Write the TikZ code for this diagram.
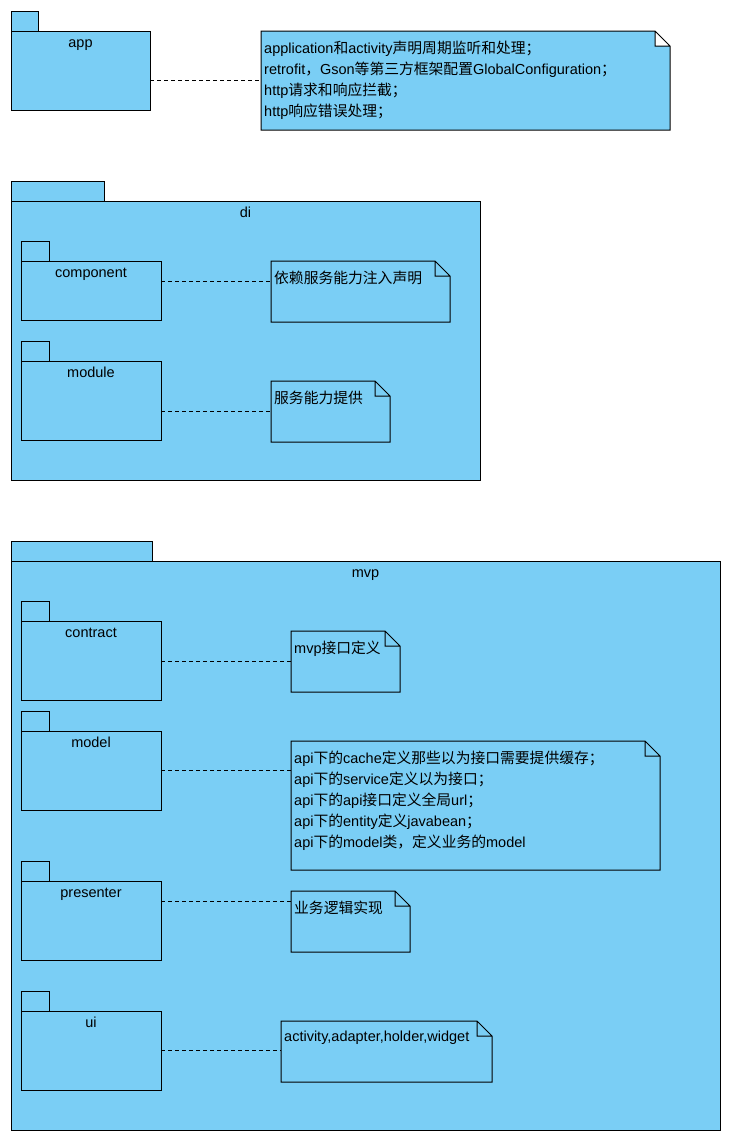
\documentclass[tikz,border=0pt]{standalone}
\usepackage{fontspec}
\setmainfont{Liberation Sans}
\newfontfamily\cjk[Scale=1.02]{Noto Sans CJK SC}
\newcommand{\zh}[1]{{\cjk #1}}
\usetikzlibrary{positioning}
\definecolor{pkgblue}{RGB}{122,206,245}

% outline of a note with a folded corner
\newcommand{\notefold}[2][pkgblue]{%
  \fill[#1] ([xshift=-15pt]#2.north east) rectangle ([yshift=-15pt]#2.north east);
  \draw[line width=1pt] (#2.north west) -- ([xshift=-15pt]#2.north east)
    -- ([yshift=-15pt]#2.north east) -- (#2.south east) -- (#2.south west) -- cycle
    ([xshift=-15pt]#2.north east) |- ([yshift=-15pt]#2.north east);}

\begin{document}
\begin{tikzpicture}[x=1pt, y=-1pt,
  font=\fontsize{14.5pt}{21pt}\selectfont,
  pkg/.style={draw, fill=pkgblue, line width=1pt, anchor=north west,
              inner sep=0pt, outer sep=0pt},
  pkgtab/.style={pkg, anchor=south west, minimum height=20pt},
  pkglbl/.style={anchor=base, inner sep=0pt},
  notebox/.style={fill=pkgblue, anchor=north west, inner sep=0pt, outer sep=0pt},
  notetext/.style={inner sep=0pt, align=left},
  dep/.style={line width=1pt, dash pattern=on 4pt off 3pt}
]
  \useasboundingbox (0,0) rectangle (734,1144);

  % app
  \node[pkg, minimum width=139pt, minimum height=79pt] (app) at (11,31) {};
  \node[pkgtab, minimum width=27pt] (apptab) at (app.north west) {};
  \node[pkglbl] (applbl) at ([yshift=-16pt]app.north) {app};

  \node[notebox, minimum width=409pt, minimum height=99pt] (appnote) at (261,31) {};
  \notefold[white]{appnote}
  \node[notetext, below right=10pt and 3pt of appnote.north west] (apptext)
    {application\zh{和}activity\zh{声明周期监听和处理；}\\
     retrofit\zh{，}Gson\zh{等第三方框架配置}GlobalConfiguration\zh{；}\\
     http\zh{请求和响应拦截；}\\
     http\zh{响应错误处理；}};
  \draw[dep] (app.east |- appnote.west) -- (appnote.west);

  % di
  \node[pkg, minimum width=469pt, minimum height=279pt] (di) at (11,201) {};
  \node[pkgtab, minimum width=93pt] (ditab) at (di.north west) {};
  \node[pkglbl] (dilbl) at ([yshift=-16pt]di.north) {di};

  \node[pkg, minimum width=140pt, minimum height=59pt] (component) at (21,261) {};
  \node[pkgtab, minimum width=28pt] (componenttab) at (component.north west) {};
  \node[pkglbl] (componentlbl) at ([yshift=-16pt]component.north) {component};

  \node[pkg, minimum width=140pt, minimum height=79pt] (module) at (21,361) {};
  \node[pkgtab, minimum width=28pt] (moduletab) at (module.north west) {};
  \node[pkglbl] (modulelbl) at ([yshift=-16pt]module.north) {module};

  \node[notebox, minimum width=179pt, minimum height=61pt] (compnote) at (271,261) {};
  \notefold{compnote}
  \node[notetext, below right=10pt and 3pt of compnote.north west] (comptext)
    {\zh{依赖服务能力注入声明}};

  \node[notebox, minimum width=119pt, minimum height=61pt] (modnote) at (271,381) {};
  \notefold{modnote}
  \node[notetext, below right=10pt and 3pt of modnote.north west] (modtext)
    {\zh{服务能力提供}};

  \coordinate (compdep) at ([yshift=9.5pt]component.east);
  \draw[dep] (compdep) -- (compdep -| compnote.west);
  \draw[dep] (module.east |- modnote.west) -- (modnote.west);

  % mvp
  \node[pkg, minimum width=709pt, minimum height=569pt] (mvp) at (11,561) {};
  \node[pkgtab, minimum width=141pt] (mvptab) at (mvp.north west) {};
  \node[pkglbl] (mvplbl) at ([yshift=-16pt]mvp.north) {mvp};

  \node[pkg, minimum width=140pt, minimum height=79pt] (contract) at (21,621) {};
  \node[pkgtab, minimum width=28pt] (contracttab) at (contract.north west) {};
  \node[pkglbl] (contractlbl) at ([yshift=-16pt]contract.north) {contract};

  \node[pkg, minimum width=140pt, minimum height=79pt] (model) at (21,731) {};
  \node[pkgtab, minimum width=28pt] (modeltab) at (model.north west) {};
  \node[pkglbl] (modellbl) at ([yshift=-16pt]model.north) {model};

  \node[pkg, minimum width=140pt, minimum height=79pt] (presenter) at (21,881) {};
  \node[pkgtab, minimum width=28pt] (presentertab) at (presenter.north west) {};
  \node[pkglbl] (presenterlbl) at ([yshift=-16pt]presenter.north) {presenter};

  \node[pkg, minimum width=140pt, minimum height=79pt] (ui) at (21,1011) {};
  \node[pkgtab, minimum width=28pt] (uitab) at (ui.north west) {};
  \node[pkglbl] (uilbl) at ([yshift=-16pt]ui.north) {ui};

  \node[notebox, minimum width=109pt, minimum height=61pt] (contnote) at (291,631) {};
  \notefold{contnote}
  \node[notetext, below right=10pt and 3pt of contnote.north west] (conttext)
    {mvp\zh{接口定义}};

  \node[notebox, minimum width=369pt, minimum height=129pt] (modelnote) at (291,741) {};
  \notefold{modelnote}
  \node[notetext, below right=10pt and 3pt of modelnote.north west] (modeltext)
    {api\zh{下的}cache\zh{定义那些以为接口需要提供缓存；}\\
     api\zh{下的}service\zh{定义以为接口；}\\
     api\zh{下的}api\zh{接口定义全局}url\zh{；}\\
     api\zh{下的}entity\zh{定义}javabean\zh{；}\\
     api\zh{下的}model\zh{类，定义业务的}model};

  \node[notebox, minimum width=119pt, minimum height=61pt] (presnote) at (291,891) {};
  \notefold{presnote}
  \node[notetext, below right=10pt and 3pt of presnote.north west] (prestext)
    {\zh{业务逻辑实现}};

  \node[notebox, minimum width=211pt, minimum height=61pt] (uinote) at (281,1021) {};
  \notefold{uinote}
  \node[notetext, below right=10pt and 3pt of uinote.north west] (uitext)
    {activity,adapter,holder,widget};

  \draw[dep] (contract.east |- contnote.west) -- (contnote.west);
  \draw[dep] (model.east) -- (model.east -| modelnote.west);
  \coordinate (presdep) at ([yshift=19.5pt]presenter.east);
  \draw[dep] (presdep) -- (presdep -| presnote.west);
  \draw[dep] (ui.east) -- (ui.east -| uinote.west);
\end{tikzpicture}
\end{document}
